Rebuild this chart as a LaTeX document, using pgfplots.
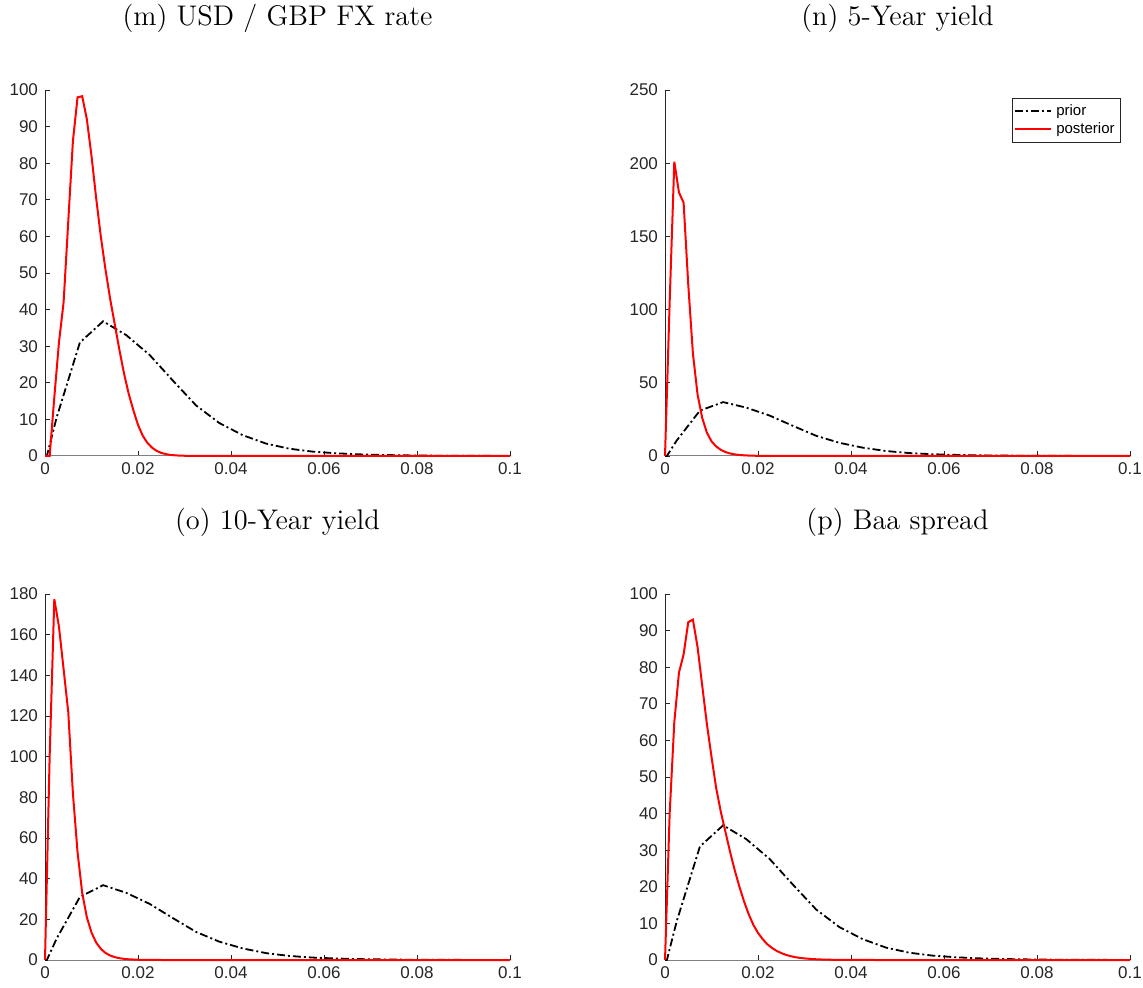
\documentclass[border=0pt]{standalone}
\usepackage{fontspec}
\usepackage{pgfplots}
\pgfplotsset{compat=1.18}
\newfontfamily\arial{Liberation Sans}
\definecolor{axgray}{rgb}{0.15,0.15,0.15}
\definecolor{xgray}{rgb}{0.5,0.5,0.5}

\pgfplotsset{
  panel/.style={
    width=232.5pt, height=183pt, scale only axis,
    xmin=0, xmax=0.1, ymin=0,
    axis x line=bottom, axis y line=left,
    axis line style={-, line width=0.5pt},
    x axis line style={xgray},
    y axis line style={axgray},
    tick align=inside, major tick length=2.5pt,
    tick style={axgray, line width=0.4pt},
    xtick={0,0.02,0.04,0.06,0.08,0.1},
    xticklabels={0,0.02,0.04,0.06,0.08,0.1},
    ticklabel style={font=\arial\fontsize{8.5}{10}\selectfont, text=axgray},
    /pgf/number format/assume math mode=true,
    clip=false,
  },
  prior/.style={black, line width=0.9pt, dash pattern=on 4pt off 1.5pt on 1pt off 1.5pt},
  post/.style={red, line width=1pt},
}

\begin{document}
\begin{tikzpicture}
\useasboundingbox (0,0) rectangle (571.5pt,494pt);

% (m)
\begin{axis}[panel, at={(22.5pt,266pt)}, anchor=south west, ymax=100, ytick={0,10,...,100}]
\addplot[prior] table {
0 0
0.0004 0
0.0025 10.5
0.0075 31.0
0.0125 36.8
0.0175 33.0
0.0225 27.6
0.0275 20.6
0.0325 13.8
0.0375 9.0
0.0425 5.7
0.0475 3.4
0.0525 2.0
0.0575 1.2
0.0625 0.75
0.0675 0.45
0.0725 0.28
0.0775 0.17
0.0825 0.10
0.0875 0.06
0.0925 0.035
0.0975 0.02
0.1 0.015
};
\addplot[post] table {
0 0
0.001 0
0.002 16
0.003 31
0.004 42
0.005 64
0.006 86
0.007 98
0.008 98.3
0.009 92
0.010 82
0.011 70.5
0.012 60
0.013 51
0.014 43
0.015 36
0.016 29
0.017 22.5
0.018 17
0.019 12.5
0.020 8.5
0.021 5.6
0.022 3.6
0.023 2.3
0.024 1.4
0.025 0.85
0.026 0.5
0.027 0.3
0.028 0.18
0.029 0.1
0.031 0.03
0.034 0
0.1 0
};
\end{axis}

% (n)
\begin{axis}[panel, at={(332.5pt,266pt)}, anchor=south west, ymax=250, ytick={0,50,...,250},
  legend style={at={(1,1)}, anchor=north east, xshift=-4.5pt, yshift=-4pt, draw=axgray, line width=0.4pt,
    font=\arial\fontsize{7.5}{8.5}\selectfont, inner sep=1pt, row sep=-2pt, cells={anchor=west}},
  legend image code/.code={\draw[#1] (0pt,0pt) -- (18pt,0pt);}]
\addplot[prior] table {
0 0
0.0004 0
0.0025 10.5
0.0075 31.0
0.0125 36.8
0.0175 33.0
0.0225 27.6
0.0275 20.6
0.0325 13.8
0.0375 9.0
0.0425 5.7
0.0475 3.4
0.0525 2.0
0.0575 1.2
0.0625 0.75
0.0675 0.45
0.0725 0.28
0.0775 0.17
0.0825 0.10
0.0875 0.06
0.0925 0.035
0.0975 0.02
0.1 0.015
};
\addlegendentry{prior}
\addplot[post] table {
0 0
0.001 105
0.002 201
0.003 180
0.004 173
0.005 117
0.006 70
0.007 42
0.008 26
0.009 16
0.010 10
0.011 6.5
0.012 4.2
0.013 2.7
0.014 1.7
0.015 1.1
0.016 0.7
0.017 0.45
0.018 0.3
0.020 0.1
0.023 0
0.1 0
};
\addlegendentry{posterior}
\end{axis}

% (o)
\begin{axis}[panel, at={(22.5pt,14pt)}, anchor=south west, ymax=180, ytick={0,20,...,180}]
\addplot[prior] table {
0 0
0.0004 0
0.0025 10.5
0.0075 31.0
0.0125 36.8
0.0175 33.0
0.0225 27.6
0.0275 20.6
0.0325 13.8
0.0375 9.0
0.0425 5.7
0.0475 3.4
0.0525 2.0
0.0575 1.2
0.0625 0.75
0.0675 0.45
0.0725 0.28
0.0775 0.17
0.0825 0.10
0.0875 0.06
0.0925 0.035
0.0975 0.02
0.1 0.015
};
\addplot[post] table {
0 0
0.001 100
0.002 177.5
0.003 164
0.004 143
0.005 122
0.006 82
0.007 53
0.008 33
0.009 21
0.010 13.5
0.011 8.6
0.012 5.5
0.013 3.5
0.014 2.2
0.015 1.4
0.016 0.9
0.017 0.55
0.018 0.35
0.020 0.12
0.022 0.04
0.025 0
0.1 0
};
\end{axis}

% (p)
\begin{axis}[panel, at={(332.5pt,14pt)}, anchor=south west, ymax=100, ytick={0,10,...,100}]
\addplot[prior] table {
0 0
0.0004 0
0.0025 10.5
0.0075 31.0
0.0125 36.8
0.0175 33.0
0.0225 27.6
0.0275 20.6
0.0325 13.8
0.0375 9.0
0.0425 5.7
0.0475 3.4
0.0525 2.0
0.0575 1.2
0.0625 0.75
0.0675 0.45
0.0725 0.28
0.0775 0.17
0.0825 0.10
0.0875 0.06
0.0925 0.035
0.0975 0.02
0.1 0.015
};
\addplot[post] table {
0 0
0.001 40
0.002 65
0.003 78.5
0.004 83.5
0.005 92.3
0.006 93
0.007 85.5
0.008 75
0.009 64.5
0.010 55.5
0.011 47
0.012 40.5
0.013 35
0.014 29.5
0.015 24.5
0.016 20
0.017 16
0.018 12.5
0.019 9.6
0.020 7.4
0.021 5.7
0.022 4.3
0.023 3.3
0.024 2.5
0.025 1.9
0.026 1.4
0.027 1.05
0.028 0.78
0.029 0.58
0.030 0.43
0.032 0.23
0.034 0.12
0.036 0.06
0.040 0.02
0.045 0
0.1 0
};
\end{axis}

\node[font=\fontsize{14.2}{17}\selectfont] at (138.75pt,485pt) {(m) USD / GBP FX rate};
\node[font=\fontsize{14.2}{17}\selectfont] at (448.75pt,485pt) {(n) 5-Year yield};
\node[font=\fontsize{14.2}{17}\selectfont] at (138.75pt,233pt) {(o) 10-Year yield};
\node[font=\fontsize{14.2}{17}\selectfont] at (448.75pt,233pt) {(p) Baa spread};
\end{tikzpicture}
\end{document}
